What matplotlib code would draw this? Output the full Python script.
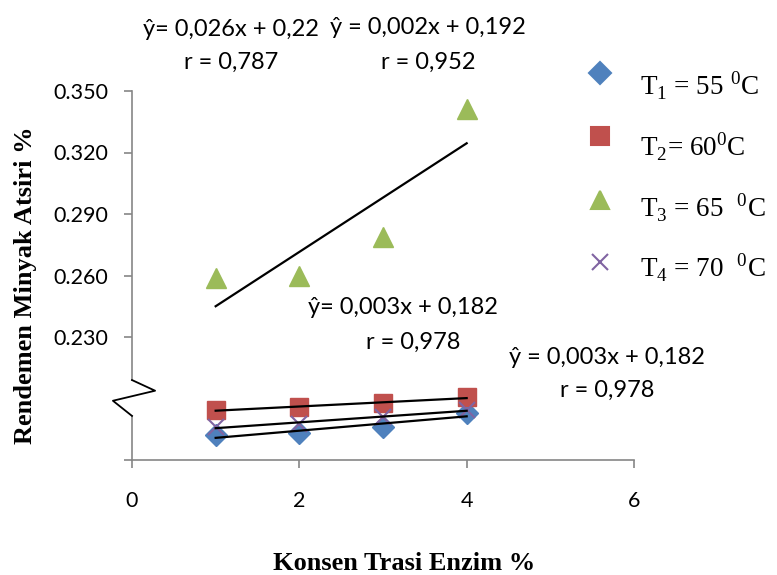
import numpy as np
import matplotlib
matplotlib.use('Agg')
import matplotlib.pyplot as plt
from matplotlib.lines import Line2D

plt.rcParams['mathtext.fontset'] = 'custom'
plt.rcParams['mathtext.rm'] = 'Liberation Serif'

# data
konsentrasi = [1, 2, 3, 4]
t1_55 = [0.1822, 0.1830, 0.1862, 0.1928]
t2_60 = [0.1944, 0.1957, 0.1979, 0.2005]
t3_65 = [0.259, 0.260, 0.279, 0.341]
t4_70 = [0.1862, 0.1874, 0.1911, 0.1944]

series_labels = [r'T$_1$ = 55 $^0$C', r'T$_2$= 60$^0$C', r'T$_3$ = 65  $^0$C', r'T$_4$ = 70  $^0$C']
y_ticks = [0.170, 0.230, 0.260, 0.290, 0.320, 0.350]
y_ticklabels = ['', '0.230', '0.260', '0.290', '0.320', '0.350']
x_ticks = [0, 2, 4, 6]

colors = ['#4F81BD', '#C0504D', '#9BBB59', '#8064A2']
markers = ['D', 's', '^', 'x']
gray = '#868686'
sans = 'Lato'
W, H = 777, 575

def fx(px):
    return px / W

def fy(py):
    return 1 - py / H

fig = plt.figure(figsize=(7.77, 5.75), dpi=100)
ax = fig.add_axes([fx(132), fy(460), 502/W, 369/H])

ax.plot(konsentrasi, t1_55, 'D', color=colors[0], ms=11, zorder=3)
ax.plot(konsentrasi, t2_60, 's', color=colors[1], ms=13, zorder=3)
ax.plot(konsentrasi, t3_65, '^', color=colors[2], ms=14, zorder=3)
ax.plot(konsentrasi, t4_70, 'x', color=colors[3], ms=11, mew=1.5, zorder=4)

# linear trendlines
xs = np.array(konsentrasi)
for ys in [t1_55, t2_60, t3_65, t4_70]:
    k, b = np.polyfit(xs, ys, 1)
    ax.plot([xs[0], xs[-1]], [k*xs[0]+b, k*xs[-1]+b], color='black', lw=1.6, zorder=5)

ax.set_xlim(0, 6)
ax.set_ylim(0.170, 0.350)
ax.set_xticks(x_ticks)
ax.set_yticks(y_ticks)
ax.set_yticklabels(y_ticklabels)
for s in ['top', 'right']:
    ax.spines[s].set_visible(False)
for s in ['left', 'bottom']:
    ax.spines[s].set_color(gray)
    ax.spines[s].set_linewidth(1.2)
ax.tick_params(axis='both', colors=gray, width=1.2, length=6, labelcolor='black', labelsize=15.5)
ax.tick_params(axis='x', pad=16)
ax.tick_params(axis='y', pad=11)
for lab in ax.get_xticklabels() + ax.get_yticklabels():
    lab.set_fontfamily(sans)

# axis break
ax.spines['left'].set_bounds(0.209, 0.350)
ax.plot([0, 0], [0.170, 0.1915], transform=ax.get_yaxis_transform(), color=gray, lw=1.2, clip_on=False)
ax.plot([0, 0.046, -0.038, 0], [0.209, 0.2038, 0.1989, 0.1915], transform=ax.get_yaxis_transform(),
        color='black', lw=1.3, clip_on=False, zorder=6)

# equations
eq_font = dict(family=sans, fontsize=17, ha='center', va='center')
fig.text(fx(231), fy(30), 'ŷ= 0,026x + 0,22', **eq_font)
fig.text(fx(231), fy(62), 'r = 0,787', **eq_font)
fig.text(fx(428), fy(28), 'ŷ = 0,002x + 0,192', **eq_font)
fig.text(fx(428), fy(62), 'r = 0,952', **eq_font)
fig.text(fx(403), fy(308), 'ŷ= 0,003x + 0,182', **eq_font)
fig.text(fx(413), fy(342), 'r = 0,978', **eq_font)
fig.text(fx(607), fy(358), 'ŷ = 0,003x + 0,182', **eq_font)
fig.text(fx(607), fy(390), 'r = 0,978', **eq_font)

# axis titles
fig.text(fx(26), fy(285), 'Rendemen Minyak Atsiri %', rotation=90, ha='center', va='center',
         family='Liberation Serif', fontweight='bold', fontsize=19)
fig.text(fx(404), fy(563), 'Konsen Trasi Enzim %', ha='center', va='center',
         family='Liberation Serif', fontweight='bold', fontsize=19)

# legend, drawn by hand so the markers sit a little above the text
legend_marker_y = [73, 136, 200, 262]
legend_text_y = [95, 156, 217, 277]
legend_ms = [11, 13, 13, 12]
for i, label in enumerate(series_labels):
    fig.add_artist(Line2D([fx(600)], [fy(legend_marker_y[i])], transform=fig.transFigure,
                          ls='none', marker=markers[i], color=colors[i], ms=legend_ms[i], mew=1.5))
    fig.text(fx(640), fy(legend_text_y[i]), label, ha='left', va='baseline',
             family='Liberation Serif', fontsize=19.5)

fig.savefig('out.png', dpi=100)
